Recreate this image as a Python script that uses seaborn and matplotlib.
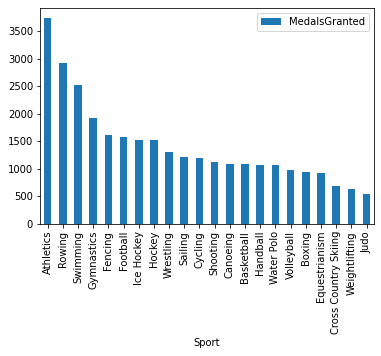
import matplotlib
matplotlib.use("Agg")
import matplotlib.pyplot as plt
import pandas as pd
import seaborn as sns

sports = [
    "Athletics", "Rowing", "Swimming", "Gymnastics", "Fencing", "Football",
    "Ice Hockey", "Hockey", "Wrestling", "Sailing", "Cycling", "Shooting",
    "Canoeing", "Basketball", "Handball", "Water Polo", "Volleyball", "Boxing",
    "Equestrianism", "Cross Country Skiing", "Weightlifting", "Judo",
]
medals = [
    3730, 2916, 2520, 1915, 1620, 1572, 1530, 1528, 1296, 1210, 1190, 1118,
    1082, 1080, 1064, 1062, 974, 937, 919, 686, 630, 542,
]

df = pd.DataFrame({"Sport": sports, "MedalsGranted": medals})

fig = plt.figure(figsize=(381 / 72, 356 / 72), dpi=72)
ax = fig.add_axes([0.105, 0.371, 0.877, 0.607])
sns.barplot(data=df, x="Sport", y="MedalsGranted", color="#1f77b4",
            saturation=1, width=0.5, label="MedalsGranted", ax=ax)
ax.set_ylim(0, 3920)
ax.set_ylabel("")
ax.set_xlabel("Sport", fontsize=10)
ax.tick_params(axis="x", labelrotation=90, labelsize=10)
ax.tick_params(axis="y", labelsize=10)
ax.legend(loc="upper right", fontsize=10)
fig.savefig("out.png", dpi=72)
